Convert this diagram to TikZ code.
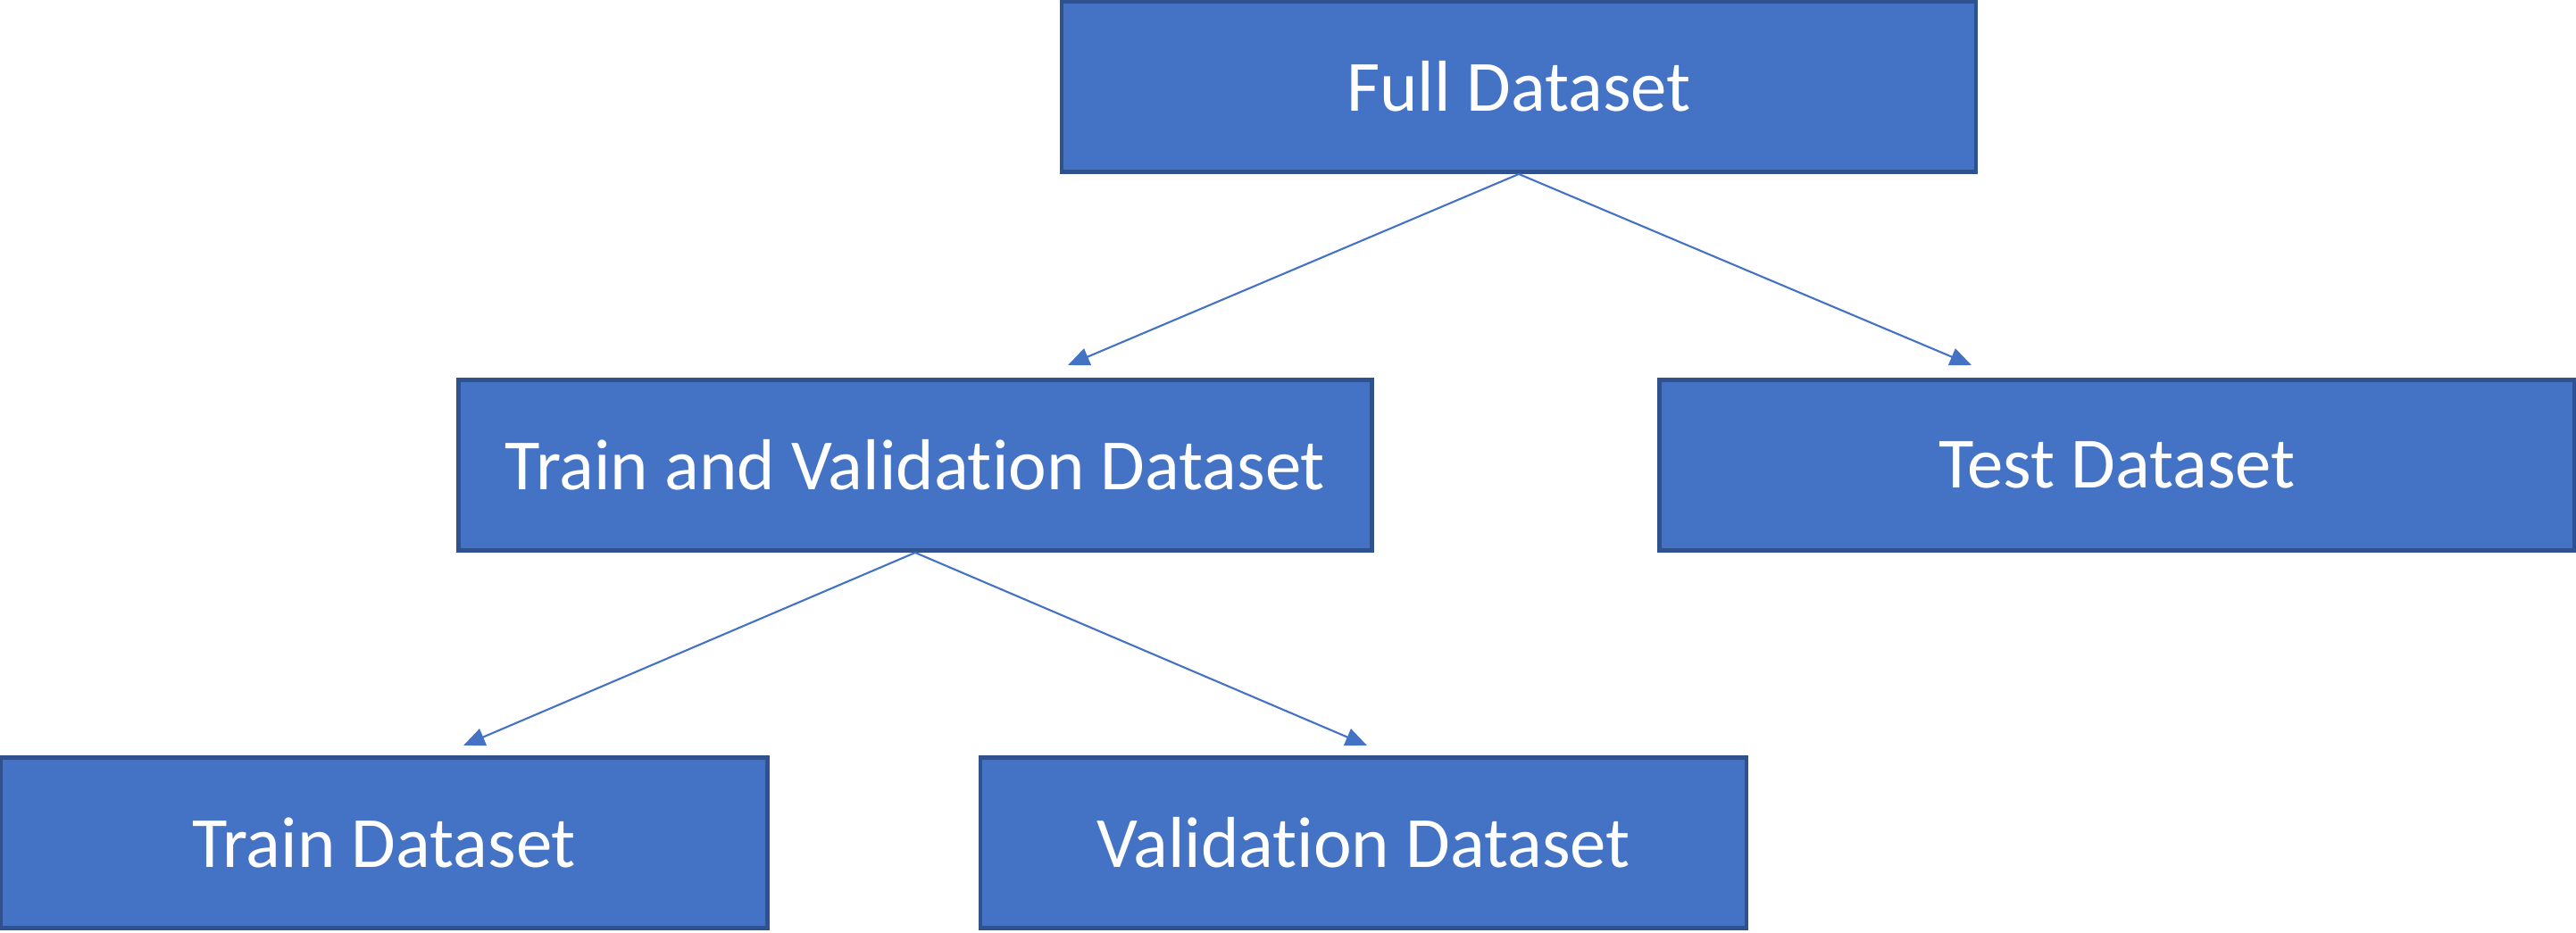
\documentclass[tikz,border=0pt]{standalone}
\usepackage{fontspec}
\setmainfont{Carlito}[RawFeature={-liga}]
\usetikzlibrary{arrows.meta}

\definecolor{boxfill}{HTML}{4472C4}
\definecolor{boxline}{HTML}{2F528F}

\tikzset{
    databox/.style={draw=boxline, line width=1.4pt, fill=boxfill, text=white,
        minimum height=1.91cm, inner sep=0pt,
        font=\fontsize{23}{28}\selectfont},
    splitarrow/.style={draw=boxfill, line width=0.6pt,
        -{Triangle[length=0.24cm, width=0.2cm]}}
}

\begin{document}
\begin{tikzpicture}
    \useasboundingbox (0, 0) rectangle (28.85, 10.44);

    % Top level
    \node[databox, minimum width=10.24cm] (full) at (17.01, 9.47) {Full Dataset};

    % First split
    \node[databox, minimum width=10.23cm] (trainval) at (10.25, 5.23) {Train and Validation Dataset};
    \node[databox, minimum width=10.25cm] (test) at (23.71, 5.23) {Test Dataset};

    % Second split
    \node[databox, minimum width=8.59cm] (train) at (4.30, 1.00) {Train Dataset};
    \node[databox, minimum width=8.58cm] (valid) at (15.27, 1.00) {Validation Dataset};

    % Arrow tips
    \coordinate (tvtip) at (11.96, 6.35);
    \coordinate (testtip) at (22.08, 6.35);
    \coordinate (traintip) at (5.19, 2.09);
    \coordinate (validtip) at (15.31, 2.09);

    \draw[splitarrow] (full.south) -- (tvtip);
    \draw[splitarrow] (full.south) -- (testtip);
    \draw[splitarrow] (trainval.south) -- (traintip);
    \draw[splitarrow] (trainval.south) -- (validtip);
\end{tikzpicture}
\end{document}
